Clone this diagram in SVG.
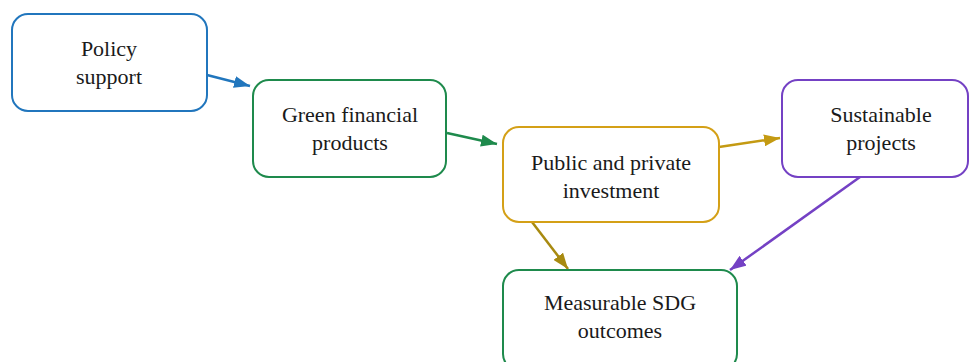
<svg xmlns="http://www.w3.org/2000/svg" width="970" height="362" viewBox="0 0 970 362">
  <style>
    .box { fill: #ffffff; stroke-width: 2; }
    .lbl { font-family: "Liberation Serif", "DejaVu Serif", serif; font-size: 22px; fill: #1a1a1a; text-anchor: middle; }
    .edge { fill: none; stroke-width: 2.5; }
  </style>
  <defs>
    <marker id="ah-blue" viewBox="0 0 16 12" refX="16" refY="6" markerWidth="16" markerHeight="12" markerUnits="userSpaceOnUse" orient="auto">
      <path d="M0,0 L16,6 L0,12 z" fill="#2176bd"/>
    </marker>
    <marker id="ah-green" viewBox="0 0 16 12" refX="16" refY="6" markerWidth="16" markerHeight="12" markerUnits="userSpaceOnUse" orient="auto">
      <path d="M0,0 L16,6 L0,12 z" fill="#1e8a4c"/>
    </marker>
    <marker id="ah-gold" viewBox="0 0 16 12" refX="16" refY="6" markerWidth="16" markerHeight="12" markerUnits="userSpaceOnUse" orient="auto">
      <path d="M0,0 L16,6 L0,12 z" fill="#c49a12"/>
    </marker>
    <marker id="ah-olive" viewBox="0 0 16 12" refX="16" refY="6" markerWidth="16" markerHeight="12" markerUnits="userSpaceOnUse" orient="auto">
      <path d="M0,0 L16,6 L0,12 z" fill="#a88a10"/>
    </marker>
    <marker id="ah-purple" viewBox="0 0 16 12" refX="16" refY="6" markerWidth="16" markerHeight="12" markerUnits="userSpaceOnUse" orient="auto">
      <path d="M0,0 L16,6 L0,12 z" fill="#7441c4"/>
    </marker>
  </defs>

  <!-- connectors -->
  <g id="edges">
    <line class="edge" x1="207" y1="75" x2="250" y2="86" stroke="#2176bd" marker-end="url(#ah-blue)"/>
    <line class="edge" x1="447" y1="133" x2="497" y2="144" stroke="#1e8a4c" marker-end="url(#ah-green)"/>
    <line class="edge" x1="719" y1="147" x2="780" y2="138" stroke="#c49a12" marker-end="url(#ah-gold)"/>
    <line class="edge" x1="532" y1="222" x2="568" y2="269" stroke="#a88a10" marker-end="url(#ah-olive)"/>
    <line class="edge" x1="860" y1="177" x2="730" y2="270" stroke="#7441c4" marker-end="url(#ah-purple)"/>
  </g>

  <!-- nodes -->
  <g id="policy-support">
    <rect class="box" x="12" y="14" width="195" height="97" rx="16" stroke="#2176bd"/>
    <text class="lbl" x="109" y="56">Policy</text>
    <text class="lbl" x="109" y="84">support</text>
  </g>
  <g id="green-financial-products">
    <rect class="box" x="253" y="80" width="193" height="97" rx="16" stroke="#1e8a4c"/>
    <text class="lbl" x="350" y="122">Green financial</text>
    <text class="lbl" x="350" y="150">products</text>
  </g>
  <g id="public-private-investment">
    <rect class="box" x="503" y="127" width="216" height="95" rx="16" stroke="#d4a017"/>
    <text class="lbl" x="611" y="170">Public and private</text>
    <text class="lbl" x="611" y="198">investment</text>
  </g>
  <g id="sustainable-projects">
    <rect class="box" x="782" y="80" width="186" height="97" rx="16" stroke="#7441c4"/>
    <text class="lbl" x="881" y="122">Sustainable</text>
    <text class="lbl" x="881" y="150">projects</text>
  </g>
  <g id="measurable-sdg-outcomes">
    <rect class="box" x="503" y="270" width="234" height="100" rx="16" stroke="#1e8a4c"/>
    <text class="lbl" x="620" y="310">Measurable SDG</text>
    <text class="lbl" x="620" y="338">outcomes</text>
  </g>
</svg>
